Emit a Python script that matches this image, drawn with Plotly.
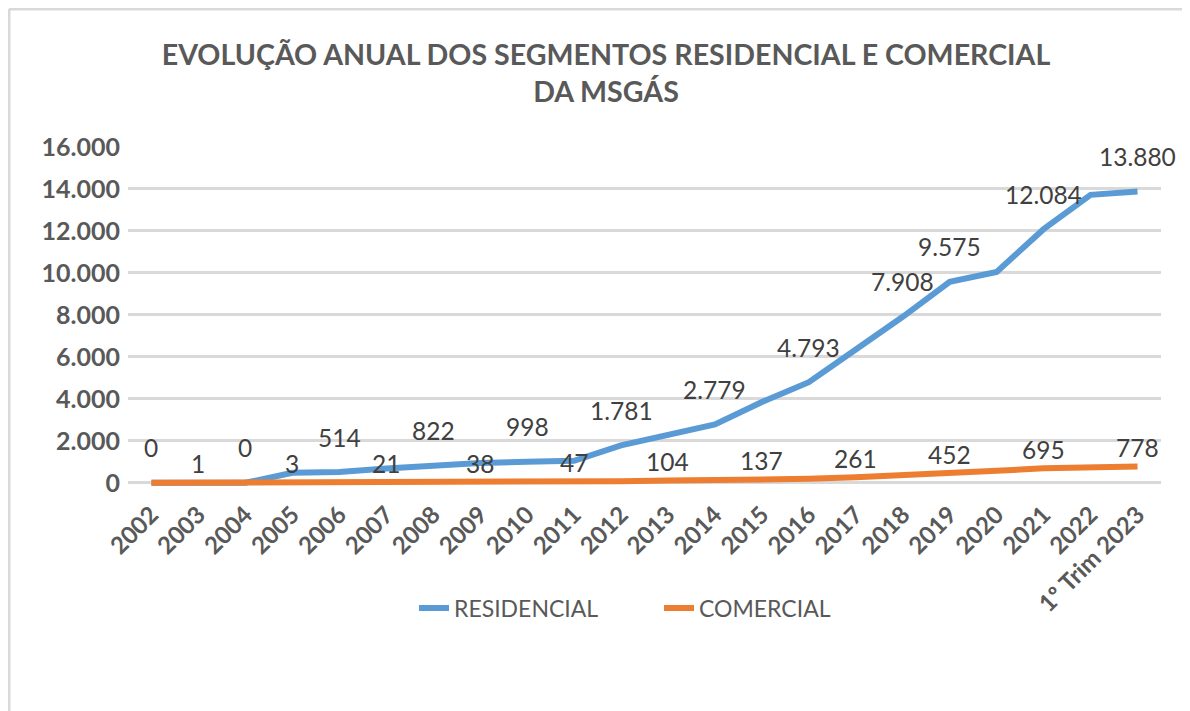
import plotly.graph_objects as go

categories = ["2002", "2003", "2004", "2005", "2006", "2007", "2008", "2009", "2010", "2011",
              "2012", "2013", "2014", "2015", "2016", "2017", "2018", "2019", "2020", "2021",
              "2022", "1º Trim 2023"]
residencial = [0, 0, 0, 480, 514, 680, 822, 940, 998, 1050,
               1781, 2280, 2779, 3850, 4793, 6350, 7908, 9575, 10050, 12084,
               13720, 13880]
comercial = [0, 1, 2, 3, 10, 21, 30, 38, 42, 47,
             75, 104, 120, 137, 190, 261, 350, 452, 570, 695,
             760, 778]
# which points carry a data label in the reference
res_labeled = [True, False, True, False, True, False, True, False, True, False,
               True, False, True, False, True, False, True, True, False, True,
               False, True]
com_labeled = [False, True, False, True, False, True, False, True, False, True,
               False, True, False, True, False, True, False, True, False, True,
               False, True]
y_ticks = [0, 2000, 4000, 6000, 8000, 10000, 12000, 14000, 16000]

BLUE = "#5B9BD5"
ORANGE = "#ED7D31"
GRAY = "#595959"
LABEL = "#404040"
FONT = "Lato"

# page has an 8px body margin; figure sized to fit the window
OFF = 8
W, H = 1190 - OFF, 711 - OFF
ML, MT = 128 - OFF, 147 - OFF
MR = W - (1161 - OFF)
MB = H - (487 - OFF)


def fmt(v):
    return f"{v:,.0f}".replace(",", ".")


fig = go.Figure()
fig.add_trace(go.Scatter(x=categories, y=residencial, mode="lines", name="RESIDENCIAL",
                         line=dict(color=BLUE, width=6), hoverinfo="x+y"))
fig.add_trace(go.Scatter(x=categories, y=comercial, mode="lines", name="COMERCIAL",
                         line=dict(color=ORANGE, width=6), hoverinfo="x+y"))

annotations = []
for i, (v, show) in enumerate(zip(residencial, res_labeled)):
    if show:
        annotations.append(dict(x=i, y=v, xref="x", yref="y", text=fmt(v), showarrow=False,
                                yanchor="middle", yshift=35,
                                font=dict(family=FONT, size=24.5, color=LABEL)))
for i, (v, show) in enumerate(zip(comercial, com_labeled)):
    if show:
        annotations.append(dict(x=i, y=v, xref="x", yref="y", text=fmt(v), showarrow=False,
                                yanchor="middle", yshift=19,
                                font=dict(family=FONT, size=24.5, color=LABEL)))

pw = W - ML - MR
ph = H - MT - MB


def px_x(p):
    # p: page pixel
    return (p - OFF - ML) / pw


def px_y(p):
    return (H - MB - (p - OFF)) / ph


shapes = [
    dict(type="line", xref="paper", yref="paper", x0=px_x(9), x1=px_x(1190), y0=px_y(9), y1=px_y(9),
         line=dict(color="#D9D9D9", width=3), layer="below"),
    dict(type="line", xref="paper", yref="paper", x0=px_x(9), x1=px_x(9), y0=px_y(9), y1=px_y(711),
         line=dict(color="#D9D9D9", width=3), layer="below"),
]

fig.update_layout(
    width=W, height=H,
    margin=dict(l=ML, r=MR, t=MT, b=MB, autoexpand=False),
    paper_bgcolor="white", plot_bgcolor="white",
    title=dict(text="<b>EVOLUÇÃO ANUAL DOS SEGMENTOS RESIDENCIAL E COMERCIAL<br>DA MSGÁS</b>",
               x=(606 - OFF) / W, xanchor="center", xref="container",
               y=1 - 57 / H, yanchor="middle", yref="container",
               font=dict(family=FONT, size=28.6, color=GRAY)),
    font=dict(family=FONT, color=GRAY),
    showlegend=True,
    legend=dict(orientation="h", x=px_x(414), xanchor="left", y=px_y(608), yanchor="middle",
                entrywidth=200, entrywidthmode="pixels",
                font=dict(family=FONT, size=23, color=GRAY), bgcolor="rgba(0,0,0,0)"),
    annotations=annotations,
    shapes=shapes,
    xaxis=dict(type="category", range=[-0.5, len(categories) - 0.5], autorange=False,
               showgrid=False, zeroline=False, showline=False, ticks="", automargin=False,
               tickangle=-45, tickfont=dict(family=FONT, size=24, color=GRAY),
               ticklabelstandoff=8),
    yaxis=dict(range=[-200, 16000], autorange=False, tickvals=y_ticks,
               ticktext=[fmt(v) for v in y_ticks], automargin=False,
               showgrid=True, gridcolor="#D9D9D9", gridwidth=2.5, zeroline=False,
               showline=False, ticks="", tickfont=dict(family=FONT, size=25, color=GRAY),
               ticklabelstandoff=7),
)
fig.update_layout(title_font_weight="bold")
fig.update_xaxes(tickfont_weight="bold")
fig.update_yaxes(tickfont_weight="bold")

fig.write_html("out.html")
